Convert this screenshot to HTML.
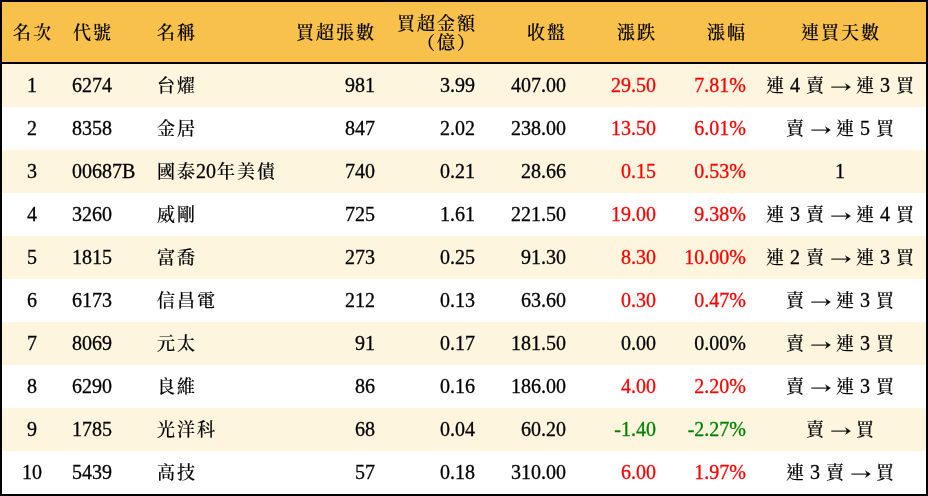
<!DOCTYPE html>
<html lang="zh-Hant">
<head>
<meta charset="utf-8">
<title>買超排行</title>
<style>
html,body{margin:0;padding:0;}
body{width:928px;height:496px;overflow:hidden;background:#fff;
  font-family:"Liberation Serif","Noto Serif CJK TC","Noto Serif CJK SC",serif;
  font-size:20px;color:#000;-webkit-text-stroke:0.3px;}
#wrap{position:absolute;left:0;top:0;width:928px;height:496px;box-sizing:border-box;
  border:2px solid #000;background:#fff;}
.row{position:absolute;left:0;width:924px;height:43px;line-height:43px;white-space:nowrap;}
.row.odd{background:#fef5df;}
.row.even{background:#fff;}
.hd{position:absolute;left:0;top:0;width:924px;height:60px;background:#f8c14c;border-bottom:2px solid #000;white-space:nowrap;}
.hd span{position:absolute;top:0;height:60px;line-height:60px;}
.hd span.two{line-height:18px;top:12px;height:auto;text-align:right;right:450px;}
.row span{position:absolute;top:0;height:43px;}
b{-webkit-text-stroke:0.15px;font-weight:500;font-size:18px;letter-spacing:2px;margin-left:1px;margin-right:-1px;}
i{-webkit-text-stroke:0.3px;font-style:normal;display:inline-block;width:20px;text-align:center;font-family:"WenQuanYi Zen Hei",sans-serif;font-size:22px;line-height:1;position:relative;top:2.5px;left:1px;text-indent:-1px;}
.c1{left:0;width:60px;text-align:center;}
.c2{left:70px;}
.c3{left:154px;}
.c4{right:551px;text-align:right;}
.c5{right:451px;text-align:right;}
.c6{right:360px;text-align:right;}
.c7{right:270px;text-align:right;}
.c8{right:180px;text-align:right;}
.c9{left:752px;width:172px;text-align:center;}
.r{color:#f00;}
.g{color:#008000;}

</style>
</head>
<body>
<div id="wrap">
  <div class="hd"><span class="c1"><b>名次</b></span><span class="c2"><b>代號</b></span><span class="c3"><b>名稱</b></span><span class="c4"><b>買超張數</b></span><span class="c5 two"><b>買超金額</b><br><b>（億）</b></span><span class="c6"><b>收盤</b></span><span class="c7"><b>漲跌</b></span><span class="c8"><b>漲幅</b></span><span class="c9"><b>連買天數</b></span></div>
  <div class="row odd" style="top:62px"><span class="c1">1</span><span class="c2">6274</span><span class="c3"><b>台燿</b></span><span class="c4">981</span><span class="c5">3.99</span><span class="c6">407.00</span><span class="c7 r">29.50</span><span class="c8 r">7.81%</span><span class="c9"><b>連</b> 4 <b>賣</b> <i>→</i> <b>連</b> 3 <b>買</b></span></div>
  <div class="row even" style="top:105px"><span class="c1">2</span><span class="c2">8358</span><span class="c3"><b>金居</b></span><span class="c4">847</span><span class="c5">2.02</span><span class="c6">238.00</span><span class="c7 r">13.50</span><span class="c8 r">6.01%</span><span class="c9"><b>賣</b> <i>→</i> <b>連</b> 5 <b>買</b></span></div>
  <div class="row odd" style="top:148px"><span class="c1">3</span><span class="c2">00687B</span><span class="c3"><b>國泰</b>20<b>年美債</b></span><span class="c4">740</span><span class="c5">0.21</span><span class="c6">28.66</span><span class="c7 r">0.15</span><span class="c8 r">0.53%</span><span class="c9">1</span></div>
  <div class="row even" style="top:191px"><span class="c1">4</span><span class="c2">3260</span><span class="c3"><b>威剛</b></span><span class="c4">725</span><span class="c5">1.61</span><span class="c6">221.50</span><span class="c7 r">19.00</span><span class="c8 r">9.38%</span><span class="c9"><b>連</b> 3 <b>賣</b> <i>→</i> <b>連</b> 4 <b>買</b></span></div>
  <div class="row odd" style="top:234px"><span class="c1">5</span><span class="c2">1815</span><span class="c3"><b>富喬</b></span><span class="c4">273</span><span class="c5">0.25</span><span class="c6">91.30</span><span class="c7 r">8.30</span><span class="c8 r">10.00%</span><span class="c9"><b>連</b> 2 <b>賣</b> <i>→</i> <b>連</b> 3 <b>買</b></span></div>
  <div class="row even" style="top:277px"><span class="c1">6</span><span class="c2">6173</span><span class="c3"><b>信昌電</b></span><span class="c4">212</span><span class="c5">0.13</span><span class="c6">63.60</span><span class="c7 r">0.30</span><span class="c8 r">0.47%</span><span class="c9"><b>賣</b> <i>→</i> <b>連</b> 3 <b>買</b></span></div>
  <div class="row odd" style="top:320px"><span class="c1">7</span><span class="c2">8069</span><span class="c3"><b>元太</b></span><span class="c4">91</span><span class="c5">0.17</span><span class="c6">181.50</span><span class="c7">0.00</span><span class="c8">0.00%</span><span class="c9"><b>賣</b> <i>→</i> <b>連</b> 3 <b>買</b></span></div>
  <div class="row even" style="top:363px"><span class="c1">8</span><span class="c2">6290</span><span class="c3"><b>良維</b></span><span class="c4">86</span><span class="c5">0.16</span><span class="c6">186.00</span><span class="c7 r">4.00</span><span class="c8 r">2.20%</span><span class="c9"><b>賣</b> <i>→</i> <b>連</b> 3 <b>買</b></span></div>
  <div class="row odd" style="top:406px"><span class="c1">9</span><span class="c2">1785</span><span class="c3"><b>光洋科</b></span><span class="c4">68</span><span class="c5">0.04</span><span class="c6">60.20</span><span class="c7 g">-1.40</span><span class="c8 g">-2.27%</span><span class="c9"><b>賣</b> <i>→</i> <b>買</b></span></div>
  <div class="row even" style="top:449px"><span class="c1">10</span><span class="c2">5439</span><span class="c3"><b>高技</b></span><span class="c4">57</span><span class="c5">0.18</span><span class="c6">310.00</span><span class="c7 r">6.00</span><span class="c8 r">1.97%</span><span class="c9"><b>連</b> 3 <b>賣</b> <i>→</i> <b>買</b></span></div>
</div>
</body>
</html>
